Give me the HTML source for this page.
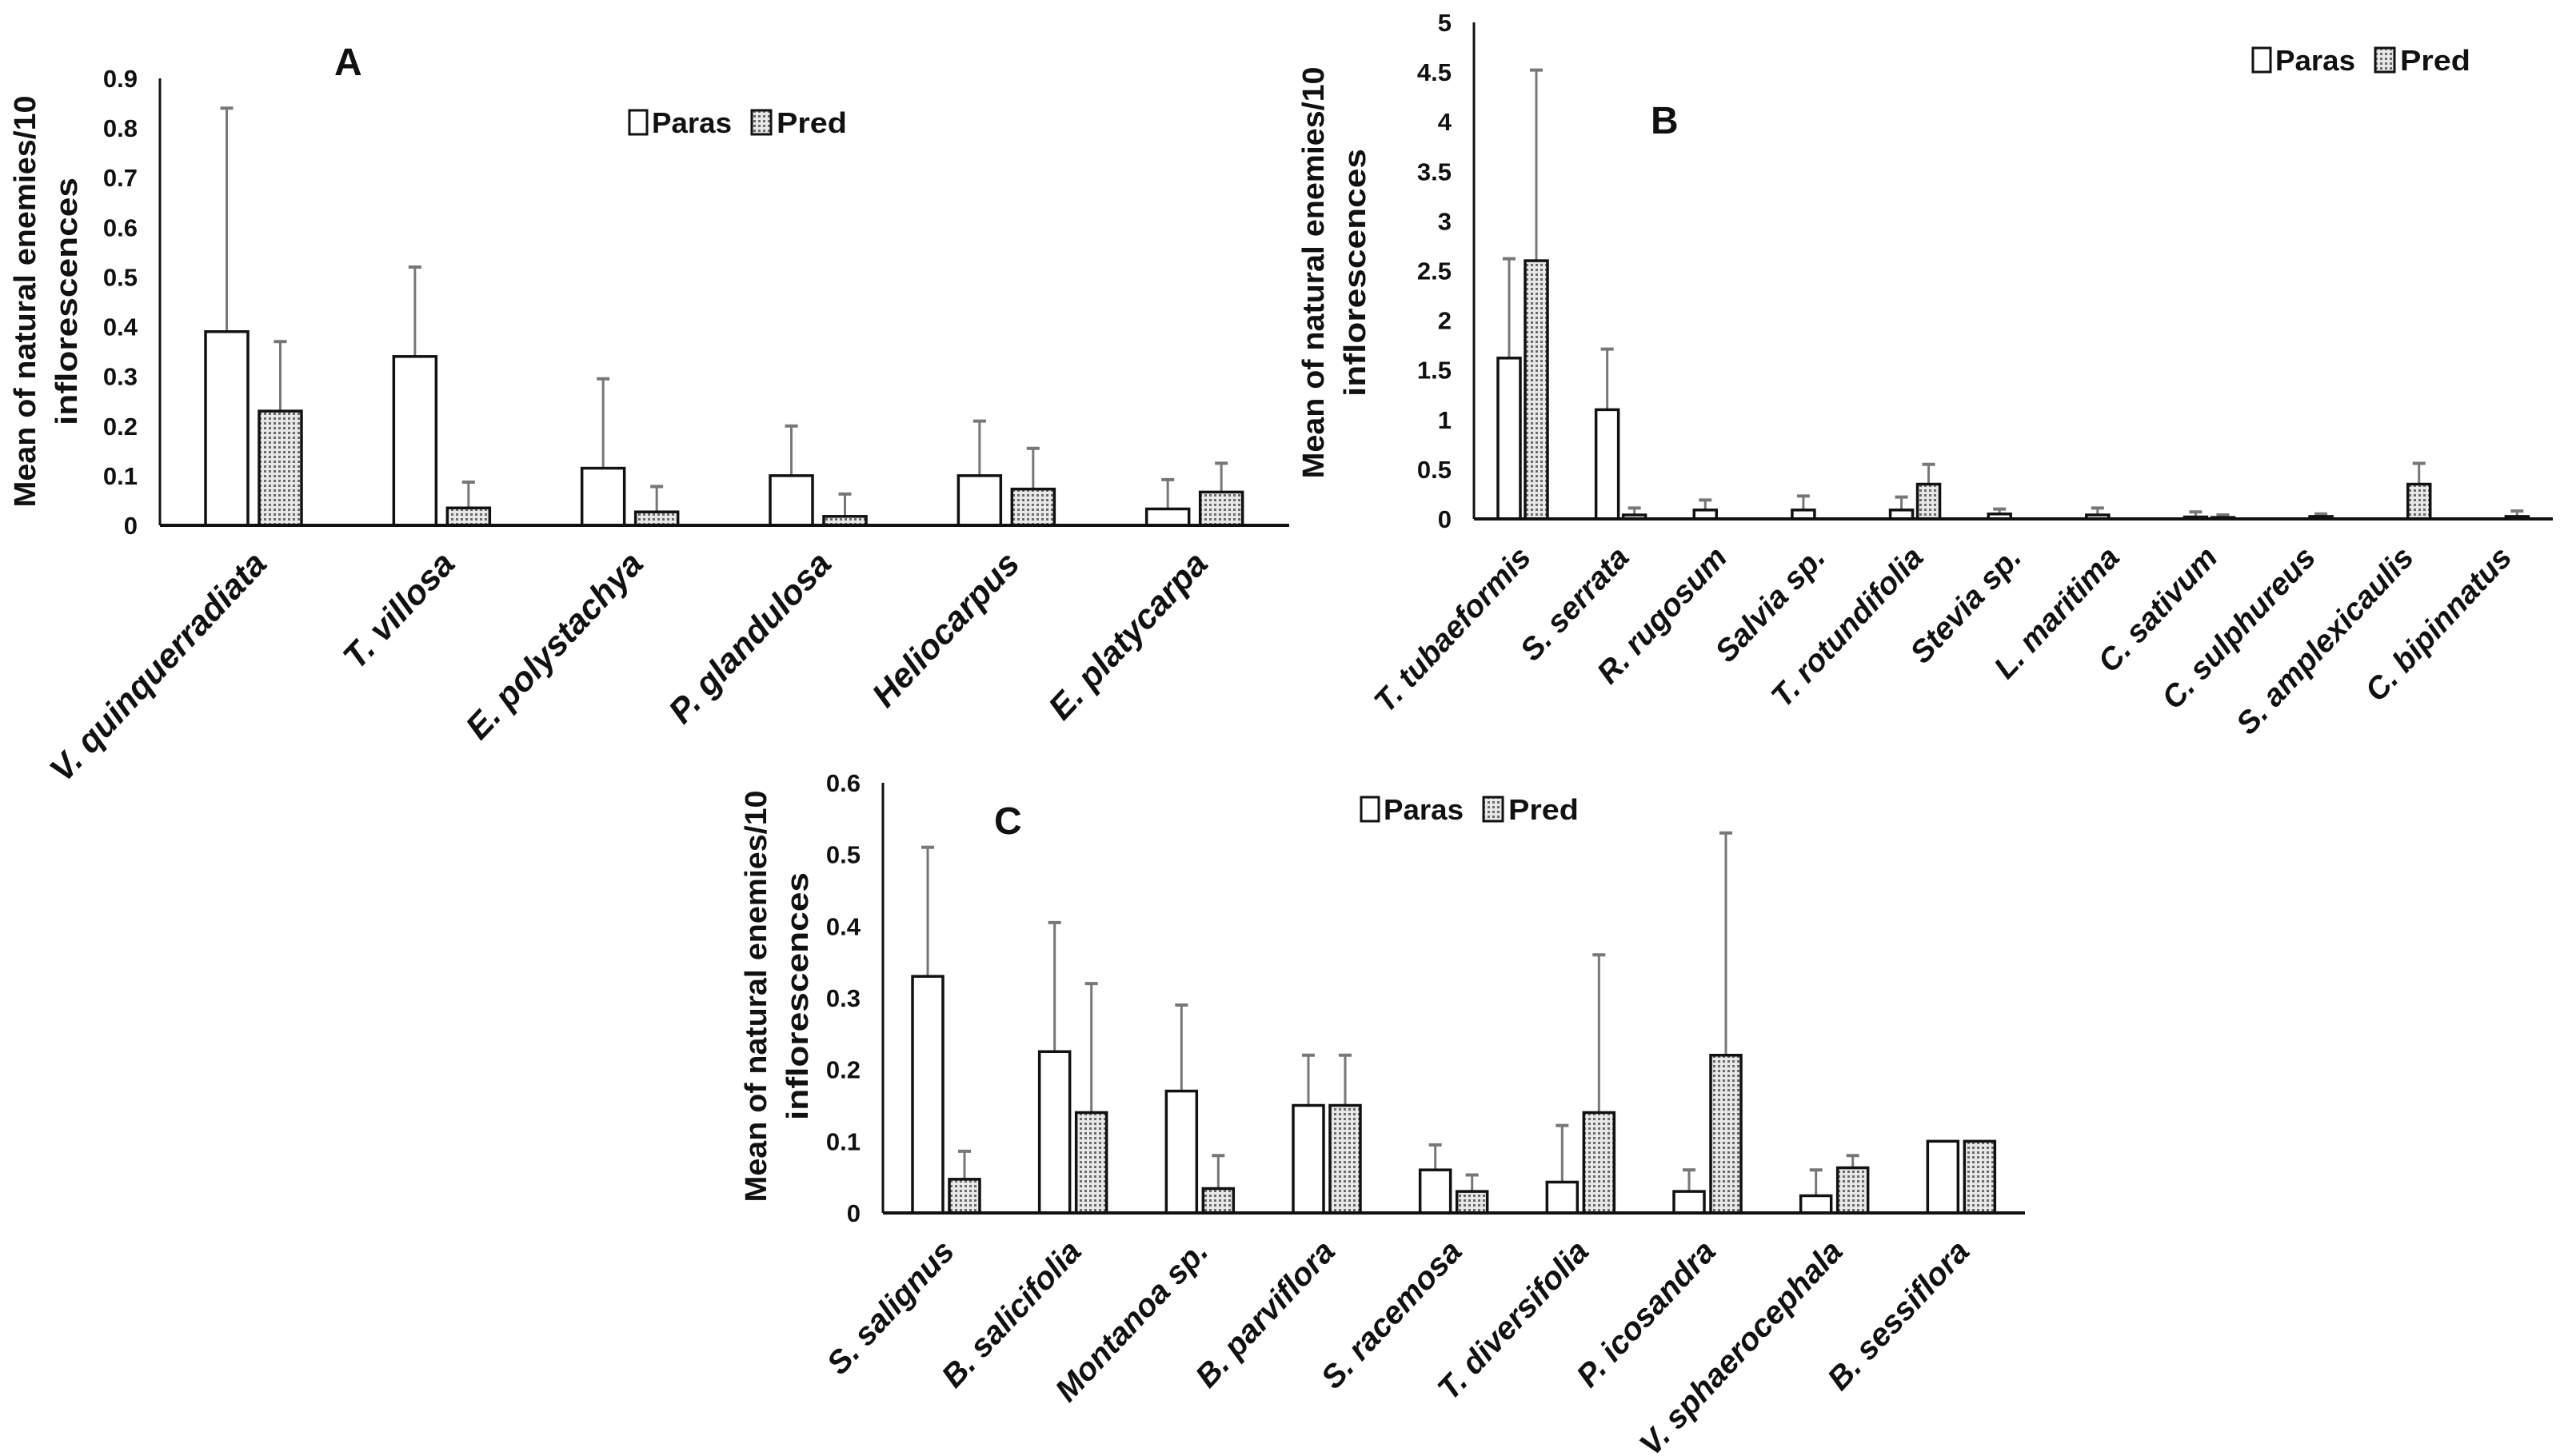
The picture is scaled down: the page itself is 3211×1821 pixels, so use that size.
<!DOCTYPE html>
<html><head><meta charset="utf-8"><style>
html,body{margin:0;padding:0;background:#fff;}
svg{display:block;font-family:"Liberation Sans",sans-serif;}
</style></head><body>
<svg id="fig" width="3211" height="1821" viewBox="0 0 3211 1821" xmlns="http://www.w3.org/2000/svg">
<defs>
<pattern id="dots" width="6" height="6" patternUnits="userSpaceOnUse">
<rect width="6" height="6" fill="#e8e8e8"/>
<rect x="0" y="0" width="3" height="3" fill="#6a6a6a"/>
</pattern>
</defs>
</svg>
<script>
// ---- Panel A data ----
const catsA = ["V. quinquerradiata","T. villosa","E. polystachya","P. glandulosa","Heliocarpus","E. platycarpa"];
const parasA = [0.39,0.34,0.115,0.10,0.10,0.033];
const parasErrA = [0.84,0.52,0.295,0.20,0.21,0.092];
const predA = [0.23,0.035,0.027,0.018,0.073,0.067];
const predErrA = [0.37,0.087,0.078,0.063,0.155,0.125];
const ticksA = ["0","0.1","0.2","0.3","0.4","0.5","0.6","0.7","0.8","0.9"];
// ---- Panel B data ----
const catsB = ["T. tubaeformis","S. serrata","R. rugosum","Salvia sp.","T. rotundifolia","Stevia sp.","L. maritima","C. sativum","C. sulphureus","S. amplexicaulis","C. bipinnatus"];
const parasB = [1.62,1.10,0.09,0.09,0.09,0.05,0.04,0.02,0,0,0];
const parasErrB = [2.62,1.71,0.19,0.23,0.22,0.10,0.11,0.07,0,0,0];
const predB = [2.60,0.04,0,0,0.35,0,0,0.015,0.025,0.35,0.025];
const predErrB = [4.52,0.11,0,0,0.55,0,0,0.04,0.05,0.56,0.08];
const ticksB = ["0","0.5","1","1.5","2","2.5","3","3.5","4","4.5","5"];
// ---- Panel C data ----
const catsC = ["S. salignus","B. salicifolia","Montanoa sp.","B. parviflora","S. racemosa","T. diversifolia","P. icosandra","V. sphaerocephala","B. sessiflora"];
const parasC = [0.33,0.225,0.17,0.15,0.06,0.043,0.03,0.024,0.10];
const parasErrC = [0.51,0.405,0.29,0.22,0.095,0.122,0.06,0.06,0.10];
const predC = [0.047,0.14,0.034,0.15,0.03,0.14,0.22,0.063,0.10];
const predErrC = [0.086,0.32,0.08,0.22,0.053,0.36,0.53,0.08,0.10];
const ticksC = ["0","0.1","0.2","0.3","0.4","0.5","0.6"];

const NS = "http://www.w3.org/2000/svg";
const svg = document.getElementById('fig');
function mk(tag, attrs, parent){
  const e = document.createElementNS(NS, tag);
  for (const k in attrs) e.setAttribute(k, attrs[k]);
  (parent||svg).appendChild(e);
  return e;
}

function drawPanel(p){
  const g = mk('g', {});
  
  
  const n = p.cats.length;
  const band = (p.x1 - p.x0) / n;
  const yScale = v => p.y0 - (v / p.max) * (p.y0 - p.yTop);
  const xScale = i => p.x0 + band * i;
  p.ticks.forEach((t, i) => {
    const v = parseFloat(t);
    const tx = mk('text', {x: p.x0 - 28, y: yScale(v) + 11, 'text-anchor': 'end', 'font-size': 31, 'font-weight': 'bold', fill: '#111'}, g);
    tx.textContent = t;
    
    
  });
  for (let i = 0; i < n; i++) {
    const gx = xScale(i);
    const px = gx + p.pad;
    const qx = px + p.bw + p.gap;
    const series = [[px, p.paras[i], p.parasErr[i], '#fff', 'paras'], [qx, p.pred[i], p.predErr[i], 'url(#dots)', 'pred']];
    series.forEach(s => {
      const [bx, v, ev, fill, nm] = s;
      if (ev > v) {
        const cx = bx + p.bw / 2;
        const l = mk('line', {x1: cx, x2: cx, y1: yScale(v), y2: yScale(ev), stroke: '#777', 'stroke-width': 3}, g);
        
        
        const c = mk('line', {x1: cx - 8, x2: cx + 8, y1: yScale(ev), y2: yScale(ev), stroke: '#777', 'stroke-width': 4}, g);
        
        
      }
      if (v > 0) {
        const r = mk('rect', {x: bx, y: yScale(v), width: p.bw, height: p.y0 - yScale(v), fill: fill, stroke: '#111', 'stroke-width': 3.5}, g);
        
        
      }
    });
    const lx = gx + band / 2 + p.lblDx, ly = p.y0 + 50;
    const t = mk('text', {x: lx, y: ly, 'text-anchor': 'end', 'font-size': p.lblSize, 'font-weight': 'bold', 'font-style': 'italic', fill: '#111', transform: `rotate(-47 ${lx} ${ly})`}, g);
    t.textContent = p.cats[i];
    
    
  }
  const ya = mk('line', {x1: p.x0, x2: p.x0, y1: p.yTop, y2: p.y0, stroke: '#111', 'stroke-width': 3}, g);
  
  
  const xa = mk('line', {x1: p.x0, x2: p.x1, y1: p.y0, y2: p.y0, stroke: '#111', 'stroke-width': 4}, g);
  
  
  const t1 = mk('text', {x: p.titleX, y: p.titleY, 'text-anchor': 'middle', 'font-size': 38, 'font-weight': 'bold', fill: '#111', textLength: 515, lengthAdjust: 'spacingAndGlyphs', transform: `rotate(-90 ${p.titleX} ${p.titleY})`}, g);
  t1.textContent = 'Mean of natural enemies/10';
  
  
  const x2 = p.titleX + 52;
  const t2 = mk('text', {x: x2, y: p.titleY, 'text-anchor': 'middle', 'font-size': 38, 'font-weight': 'bold', fill: '#111', textLength: 310, lengthAdjust: 'spacingAndGlyphs', transform: `rotate(-90 ${x2} ${p.titleY})`}, g);
  t2.textContent = 'inflorescences';
  
  
  const pl = mk('text', {x: p.letterX, y: p.letterY, 'font-size': 48, 'font-weight': 'bold', fill: '#111'}, g);
  pl.textContent = p.id;
  
  
  const lg = mk('g', {}, g);
  
  
  const b1 = mk('rect', {x: p.legX, y: p.legY - 28, width: 22, height: 30, fill: '#fff', stroke: '#111', 'stroke-width': 3}, lg);
  
  
  const l1 = mk('text', {x: p.legX + 28, y: p.legY, 'font-size': 36, 'font-weight': 'bold', fill: '#111', textLength: 100, lengthAdjust: 'spacingAndGlyphs'}, lg);
  l1.textContent = 'Paras';
  
  
  const b2 = mk('rect', {x: p.legX + 153, y: p.legY - 28, width: 24, height: 30, fill: 'url(#dots)', stroke: '#111', 'stroke-width': 3}, lg);
  
  
  const l2 = mk('text', {x: p.legX + 184, y: p.legY, 'font-size': 36, 'font-weight': 'bold', fill: '#111', textLength: 88, lengthAdjust: 'spacingAndGlyphs'}, lg);
  l2.textContent = 'Pred';
  
  
}

drawPanel({id:'A', cats:catsA, paras:parasA, parasErr:parasErrA, pred:predA, predErr:predErrA, ticks:ticksA, max:0.9,
  x0:200, x1:1612, y0:657, yTop:98, pad:57, bw:53, gap:14, lblDx:18, lblSize:43,
  titleX:44, titleY:377, letterX:418, letterY:94, legX:787, legY:166});
drawPanel({id:'B', cats:catsB, paras:parasB, parasErr:parasErrB, pred:predB, predErr:predErrB, ticks:ticksB, max:5,
  x0:1843, x1:3192, y0:649, yTop:28, pad:30, bw:28, gap:6, lblDx:12, lblSize:39,
  titleX:1655, titleY:341, letterX:2064, letterY:167, legX:2817, legY:88});
drawPanel({id:'C', cats:catsC, paras:parasC, parasErr:parasErrC, pred:predC, predErr:predErrC, ticks:ticksC, max:0.6,
  x0:1104, x1:2532, y0:1517, yTop:979, pad:37, bw:38, gap:8, lblDx:12, lblSize:40,
  titleX:958, titleY:1246, letterX:1243, letterY:1043, legX:1702, legY:1025});
</script>
</body></html>
